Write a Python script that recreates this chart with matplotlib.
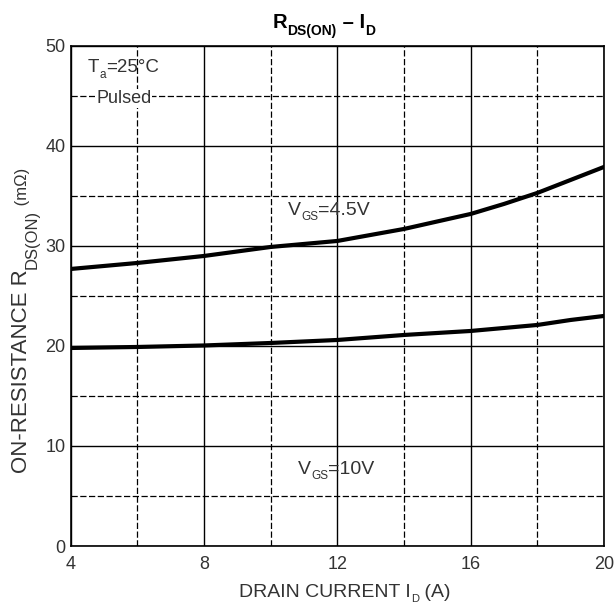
import matplotlib
matplotlib.use('Agg')
import matplotlib.pyplot as plt
from matplotlib.transforms import IdentityTransform

# --- data ---
id_amps = [4, 6, 8, 10, 12, 14, 16, 17, 18, 19, 20]
rds_vgs45 = [27.7, 28.3, 29.0, 29.9, 30.5, 31.7, 33.2, 34.2, 35.3, 36.6, 37.9]
rds_vgs10 = [19.8, 19.9, 20.05, 20.3, 20.6, 21.1, 21.5, 21.8, 22.1, 22.6, 23.0]

x_major = [4, 8, 12, 16, 20]
x_minor = [6, 10, 14, 18]
y_major = [0, 10, 20, 30, 40, 50]
y_minor = [5, 15, 25, 35, 45]

plt.rcParams['font.family'] = ['Liberation Sans', 'DejaVu Sans']

TXT = '#333333'
W, H = 616, 604

fig = plt.figure(figsize=(W / 100, H / 100), dpi=100)
ax = fig.add_axes([0.115, 0.096, 0.8655, 0.828])

ax.plot(id_amps, rds_vgs45, color='black', lw=3, zorder=3)
ax.plot(id_amps, rds_vgs10, color='black', lw=3, zorder=3)

ax.set_xlim(4, 20)
ax.set_ylim(0, 50)
ax.set_xticks(x_major)
ax.set_xticks(x_minor, minor=True)
ax.set_yticks(y_major)
ax.set_yticks(y_minor, minor=True)
ax.grid(True, which='major', color='black', lw=1.0, ls='-')
ax.grid(True, which='minor', color='black', lw=0.9, ls=(0, (5, 2)))
ax.tick_params(which='both', length=0, labelsize=13, labelcolor=TXT)
ax.tick_params(axis='x', pad=7)
ax.tick_params(axis='y', pad=4)
for sp in ax.spines.values():
    sp.set_color('black')
    sp.set_linewidth(1.2)

renderer = fig.canvas.get_renderer()


def seg_text(x, y, parts, rot=0, color=TXT, bg=False):
    """Lay out text pieces (text, size, drop_px, weight) one after another.
    x, y are pixel positions (y counted from the top) of the first baseline."""
    for s, size, drop, weight in parts:
        if rot == 0:
            t = fig.text(x, H - (y + drop), s, fontsize=size, weight=weight,
                         color=color, ha='left', va='baseline',
                         transform=IdentityTransform())
            if bg:
                t.set_bbox(dict(facecolor='white', edgecolor='none', pad=0.5))
            x += t.get_window_extent(renderer).width
        else:
            t = fig.text(x + drop, H - y, s, fontsize=size, weight=weight,
                         color=color, ha='left', va='baseline', rotation=90,
                         rotation_mode='anchor', transform=IdentityTransform())
            y -= t.get_window_extent(renderer).height


# title
seg_text(273, 28, [('R', 14.5, 0, 'bold'), ('DS(ON)', 10, 7, 'bold'),
                   (' \u2013 I', 14.5, 0, 'bold'), ('D', 10, 7, 'bold')],
         color='black')

# axis labels
seg_text(239, 597, [('DRAIN CURRENT I', 14, 0, 'normal'), ('D', 8, 5, 'normal'),
                    (' (A)', 14, 0, 'normal')])
seg_text(27, 473, [('ON-RESISTANCE R', 16, 0, 'normal'),
                   ('DS(ON)', 12, 10, 'normal'),
                   (' (m\u03a9)', 12, 0, 'normal')], rot=90)

# annotations
seg_text(88, 72, [('T', 13.5, 0, 'normal'), ('a', 8.5, 6, 'normal'),
                  ('=25\u00b0C', 13.5, 0, 'normal')])
seg_text(96, 103, [('Pulsed', 13, 0, 'normal')], bg=True)
seg_text(288, 215, [('V', 14, 0, 'normal'), ('GS', 8.5, 5, 'normal'),
                    ('=4.5V', 14, 0, 'normal')])
seg_text(298, 474, [('V', 14, 0, 'normal'), ('GS', 8.5, 5, 'normal'),
                    ('=10V', 14, 0, 'normal')])

fig.savefig('out.png', dpi=100)
